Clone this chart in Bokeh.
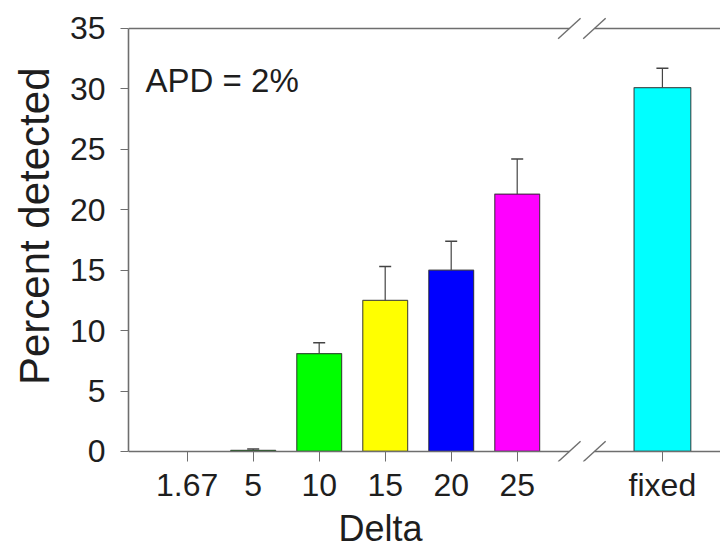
import math
from bokeh.plotting import figure
from bokeh.models import Range1d, FixedTicker, Label, ColumnDataSource, Title
from bokeh.embed import file_html
from bokeh.resources import INLINE

# ---- data ----
delta_labels = ["1.67", "5", "10", "15", "20", "25", "fixed"]
percent_detected = [0.0, 0.1, 8.1, 12.5, 15.0, 21.3, 30.1]
error_up = [0.0, 0.1, 0.9, 2.8, 2.4, 2.9, 1.6]
y_ticks = [0, 5, 10, 15, 20, 25, 30, 35]
annotation_text = "APD = 2%"

# ---- styling / layout ----
bar_colors = ["#00ff00", "#00ff00", "#00ff00", "#ffff00", "#0000ff", "#ff00ff", "#00ffff"]
FIXED_POS = 7.2
positions = [float(i) for i in range(len(delta_labels) - 1)] + [FIXED_POS]
bar_widths = [0.68] * (len(delta_labels) - 1) + [0.86]
BREAK_LO, BREAK_HI = 5.79, 6.17
SLASH_DX, SLASH_DY = 0.17, 0.85
AXIS_COLOR = "#6e6e6e"
TEXT_COLOR = "#1e1e1e"
FONT = "Liberation Sans"

X0, X1 = -0.889, 8.08
Y0, Y1 = -0.83, 36.32

p = figure(width=720, height=548, x_range=Range1d(X0, X1), y_range=Range1d(Y0, Y1),
           output_backend="svg", toolbar_location=None,
           min_border_left=128, min_border_right=0, min_border_top=12, min_border_bottom=0)
p.outline_line_color = None
p.xgrid.grid_line_color = None
p.ygrid.grid_line_color = None
p.background_fill_color = "white"

# bars (skip zero-height ones)
keep = [i for i, v in enumerate(percent_detected) if v > 0]
bars = ColumnDataSource(dict(
    x=[positions[i] for i in keep],
    top=[percent_detected[i] for i in keep],
    w=[bar_widths[i] for i in keep],
    c=[bar_colors[i] for i in keep],
    hi=[percent_detected[i] + error_up[i] for i in keep],
))
p.vbar(x="x", top="top", bottom=0, width="w", source=bars, fill_color="c",
       line_color="#222222", line_alpha=0.75, line_width=1.2)
p.segment(x0="x", y0="top", x1="x", y1="hi", source=bars, line_color="#444444", line_width=1.2)
p.scatter(x="x", y="hi", source=bars, marker="dash", size=12, line_color="#444444", line_width=1.5)

# broken x axis line and top line
for yy in (0, 35):
    p.segment(x0=[X0, BREAK_HI], y0=[yy, yy], x1=[BREAK_LO, X1], y1=[yy, yy],
              line_color=AXIS_COLOR, line_width=1.6)
    p.segment(x0=[BREAK_LO - SLASH_DX, BREAK_HI - SLASH_DX], y0=[yy - SLASH_DY] * 2,
              x1=[BREAK_LO + SLASH_DX, BREAK_HI + SLASH_DX], y1=[yy + SLASH_DY] * 2,
              line_color=AXIS_COLOR, line_width=1.4)

# x axis: ticks and labels only
xa = p.xaxis[0]
xa.ticker = FixedTicker(ticks=positions)
xa.major_label_overrides = {pos: lab for pos, lab in zip(positions, delta_labels)}
xa.axis_line_color = None
xa.major_tick_in = 10
xa.major_tick_out = 0
xa.major_tick_line_color = AXIS_COLOR
xa.minor_tick_line_color = None
xa.major_label_standoff = 5
xa.major_label_text_font = FONT
xa.major_label_text_font_size = "32px"
xa.major_label_text_color = TEXT_COLOR

# x title placed below the axis, left-aligned with an offset
p.add_layout(Title(text="Delta", align="left", offset=210, standoff=0,
                   text_font=FONT, text_font_size="36px", text_font_style="normal",
                   text_color=TEXT_COLOR), "below")

# y axis
ya = p.yaxis[0]
ya.ticker = FixedTicker(ticks=y_ticks)
ya.bounds = (0, 35)
ya.axis_line_color = AXIS_COLOR
ya.axis_line_width = 1.6
ya.major_tick_in = 0
ya.major_tick_out = 8
ya.major_tick_line_color = AXIS_COLOR
ya.minor_tick_line_color = None
ya.major_label_standoff = 15
ya.major_label_text_font = FONT
ya.major_label_text_font_size = "32px"
ya.major_label_text_color = TEXT_COLOR

# y title: vertical, ending near the top of the axis
p.add_layout(Title(text="Percent detected", align="right", offset=55, standoff=17,
                   text_font=FONT, text_font_size="42px", text_font_style="normal",
                   text_color=TEXT_COLOR), "left")

p.add_layout(Label(x=-0.63, y=30.7, text=annotation_text, text_align="left", text_baseline="alphabetic",
                   text_font=FONT, text_font_size="33px", text_color=TEXT_COLOR))

open("out.html", "w").write(file_html(p, INLINE))
